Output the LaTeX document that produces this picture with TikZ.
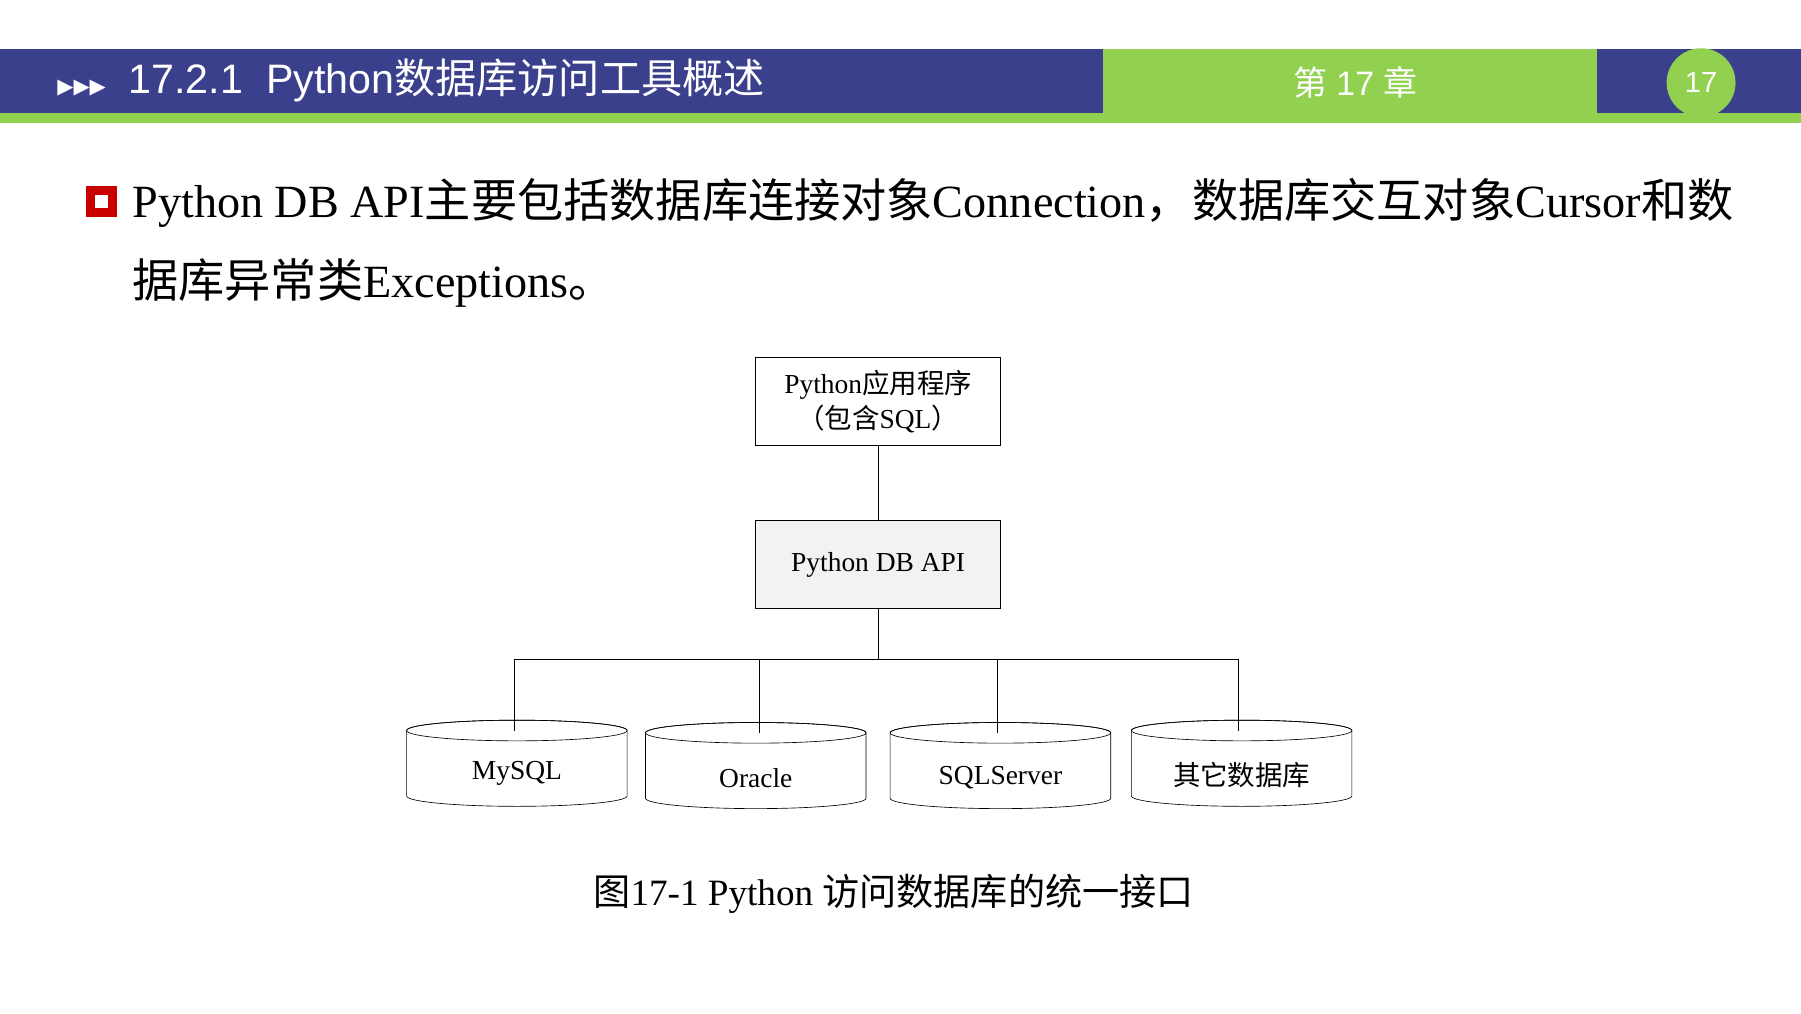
\documentclass[tikz,border=0pt]{standalone}
\usepackage{fontspec}
\setmainfont{Liberation Serif}
\setsansfont{Liberation Sans}
\newfontfamily\cjk{Noto Sans CJK SC}
\newfontfamily\cjksym{DejaVu Sans}
\usetikzlibrary{positioning}
\definecolor{bandblue}{RGB}{59,64,140}
\definecolor{bandgreen}{RGB}{146,208,80}
\definecolor{boxgray}{RGB}{242,242,242}
\definecolor{markred}{RGB}{200,0,0}
\tikzset{
  box/.style = {draw, thin, minimum width=53.25mm, minimum height=19.25mm, align=center, font=\fontsize{17}{22}\selectfont},
  db/.style = {font=\fontsize{17}{20}\selectfont, inner sep=0pt},
  wire/.style = {draw, thin}
}
\newcommand{\dbcyl}[3]{% left x, top y, width
  \draw[thin,fill=white] (#1,#2+9) -- (#1,#2+66) arc[start angle=180,end angle=0,x radius=#3/2,y radius=9] -- (#1+#3,#2+9) arc[start angle=0,end angle=-180,x radius=#3/2,y radius=9];
  \draw[thin] (#1+#3/2,#2+9) ellipse[x radius=#3/2,y radius=9];
}
\begin{document}
\begin{tikzpicture}[x=0.25mm, y=-0.25mm]
\useasboundingbox (0,0) rectangle (1568,882);

% header band
\fill[bandblue] (0,43) rectangle (1568,98);
\fill[bandgreen] (0,98) rectangle (1568,107);
\fill[bandgreen] (960,43) rectangle (1390,107);
\fill[bandgreen] (1481,72) circle (30);
\node[anchor=west, text=white, font=\sffamily\fontsize{25.5}{30}\selectfont] (title) at (45,70)
  {{\cjksym\fontsize{13}{16}\selectfont ▶▶▶}\ \ 17.2.1\ \ Python{\cjk 数据库访问工具概述}};
\node[text=white, font=\sffamily\fontsize{21}{25}\selectfont] (chap) at (1180,72) {{\cjk 第} 17 {\cjk 章}};
\node[text=white, font=\sffamily\fontsize{18}{22}\selectfont] (page) at (1481,72) {17};

% bullet text
\draw[markred, line width=2mm] (79,166) rectangle (98,185);
\node[anchor=west, inner sep=0pt, font=\fontsize{28.6}{34}\selectfont] (line1) at (115,177)
  {Python DB API{\cjk 主要包括数据库连接对象}Connection{\cjk ，数据库交互对象}Cursor{\cjk 和数}};
\node[anchor=west, inner sep=0pt, font=\fontsize{28.6}{34}\selectfont] (line2) at (115,246)
  {{\cjk 据库异常类}Exceptions{\cjk 。}};

% diagram
\node[box] (app) at (764.5,349.5) {Python{\cjk 应用程序}\\{\cjk （包含}SQL{\cjk ）}};
\node[box, fill=boxgray] (api) at (764.5,491.5) {Python DB API};
\draw[wire] (app) -- (api);
\coordinate (bus) at (764.5,574);
\draw[wire] (api) -- (bus);
\draw[wire] (448,574) -- (1078,574);

\dbcyl{354}{627}{192}
\dbcyl{562}{629}{192}
\dbcyl{775}{629}{192}
\dbcyl{985}{627}{192}
\node[db] (mysql) at (450,673) {MySQL};
\node[db] (oracle) at (658,677) {Oracle};
\node[db] (sqlsrv) at (871,677) {SQLServer};
\node[db] (other) at (1081,675) {\cjk 其它数据库};
\foreach \x/\y in {448/627, 661/629, 868/629, 1078/627}
  \draw[wire] (\x,574) -- (\x,\y+9);

\node[font=\fontsize{23}{27}\selectfont] (cap) at (778,778) {{\cjk 图}17-1 Python {\cjk 访问数据库的统一接口}};
\end{tikzpicture}
\end{document}
